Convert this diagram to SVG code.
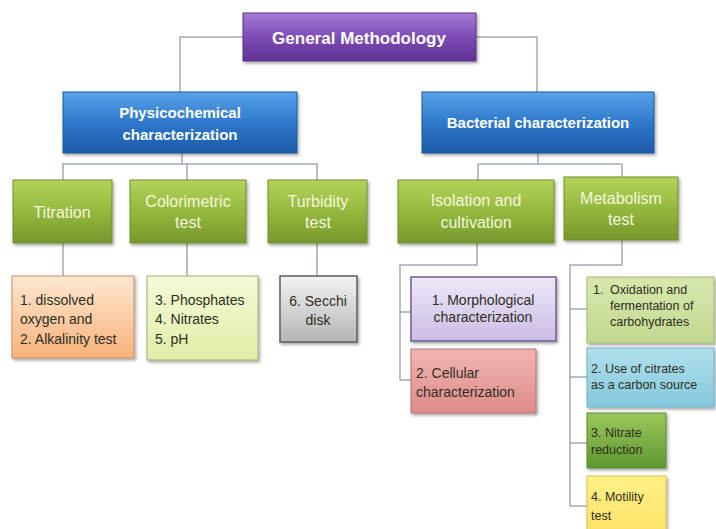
<svg xmlns="http://www.w3.org/2000/svg" width="716" height="529" viewBox="0 0 716 529">
<defs>
<linearGradient id="gPur" x1="0" y1="0" x2="0" y2="1"><stop offset="0" stop-color="#a57ad6"/><stop offset="0.5" stop-color="#7d4cb6"/><stop offset="1" stop-color="#5f3294"/></linearGradient>
<linearGradient id="gBlue" x1="0" y1="0" x2="0" y2="1"><stop offset="0" stop-color="#5aa2e8"/><stop offset="0.5" stop-color="#2f78cc"/><stop offset="1" stop-color="#1d5aa8"/></linearGradient>
<linearGradient id="gGreen" x1="0" y1="0" x2="0" y2="1"><stop offset="0" stop-color="#b4d35a"/><stop offset="0.5" stop-color="#94b83e"/><stop offset="1" stop-color="#76982c"/></linearGradient>
<linearGradient id="gOrange" x1="0" y1="0" x2="0" y2="1"><stop offset="0" stop-color="#fee8d2"/><stop offset="1" stop-color="#f8b27a"/></linearGradient>
<linearGradient id="gYG" x1="0" y1="0" x2="0" y2="1"><stop offset="0" stop-color="#f4fad8"/><stop offset="1" stop-color="#e0eda8"/></linearGradient>
<linearGradient id="gGray" x1="0" y1="0" x2="0" y2="1"><stop offset="0" stop-color="#f4f4f4"/><stop offset="1" stop-color="#b4b4b4"/></linearGradient>
<linearGradient id="gLav" x1="0" y1="0" x2="0" y2="1"><stop offset="0" stop-color="#efe8f8"/><stop offset="1" stop-color="#cbbce6"/></linearGradient>
<linearGradient id="gPink" x1="0" y1="0" x2="0" y2="1"><stop offset="0" stop-color="#f2b4b2"/><stop offset="1" stop-color="#de8c8a"/></linearGradient>
<linearGradient id="gLG" x1="0" y1="0" x2="0" y2="1"><stop offset="0" stop-color="#d8e8ae"/><stop offset="1" stop-color="#c2d890"/></linearGradient>
<linearGradient id="gLB" x1="0" y1="0" x2="0" y2="1"><stop offset="0" stop-color="#b0e0ec"/><stop offset="1" stop-color="#84c8dc"/></linearGradient>
<linearGradient id="gDG" x1="0" y1="0" x2="0" y2="1"><stop offset="0" stop-color="#9cc85a"/><stop offset="1" stop-color="#5e9830"/></linearGradient>
<linearGradient id="gYel" x1="0" y1="0" x2="0" y2="1"><stop offset="0" stop-color="#fff28a"/><stop offset="1" stop-color="#ffe064"/></linearGradient>
<filter id="sh" x="-10%" y="-10%" width="125%" height="130%"><feDropShadow dx="1.5" dy="2" stdDeviation="1.5" flood-color="#000" flood-opacity="0.35"/></filter>
</defs>
<style>
.conn path{fill:none;stroke:#a3abb8;stroke-width:1.5}
rect{filter:url(#sh)}
.hd{font-family:"Liberation Sans",Arial,sans-serif;font-weight:bold;fill:#ffffff;text-anchor:middle}
.gr{font-family:"Liberation Sans",Arial,sans-serif;font-size:16px;fill:#f3f7dc;text-anchor:middle}
.dk{font-family:"Liberation Sans",Arial,sans-serif;font-size:14px;fill:#2e2e22}
.sm{font-size:12.5px}
.mid{text-anchor:middle}
</style>
<g class="conn" id="connectors">
<path d="M243,37 H180 V92"/>
<path d="M476,37 H537 V92"/>
<path d="M182,153 V164 M62,164 H318 M63,164 V180 M187,164 V180 M317,164 V180"/>
<path d="M538,153 V164 M478,164 H622 M478,164 V180 M622,164 V177"/>
<path d="M63,243 V276 M187,243 V276 M317,243 V276"/>
<path d="M477,243 V265 H400 V380 M400,312 H411 M400,380 H411"/>
<path d="M622,240 V265 H570 V506 M570,309 H587 M570,377 H587 M570,443 H587 M570,506 H587"/>
</g>
<g id="general">
<rect x="243" y="13" width="233" height="48" fill="url(#gPur)" stroke="#5a3088" stroke-width="1"/>
<text class="hd" x="359" y="44" font-size="17">General Methodology</text>
</g>
<g id="physico">
<rect x="63" y="92" width="234" height="61" fill="url(#gBlue)" stroke="#1d5aa0" stroke-width="1"/>
<text class="hd" x="180" y="118" font-size="15">Physicochemical</text>
<text class="hd" x="180" y="140" font-size="15">characterization</text>
</g>
<g id="bacterial">
<rect x="422" y="92" width="232" height="61" fill="url(#gBlue)" stroke="#1d5aa0" stroke-width="1"/>
<text class="hd" x="538" y="128" font-size="15">Bacterial characterization</text>
</g>
<g id="titration">
<rect x="13" y="180" width="99" height="63" fill="url(#gGreen)" stroke="#6f8f2a" stroke-width="1"/>
<text class="gr" x="62" y="218">Titration</text>
</g>
<g id="colorimetric">
<rect x="130" y="180" width="116" height="63" fill="url(#gGreen)" stroke="#6f8f2a" stroke-width="1"/>
<text class="gr" x="188" y="207">Colorimetric</text>
<text class="gr" x="188" y="228">test</text>
</g>
<g id="turbidity">
<rect x="268" y="180" width="99" height="63" fill="url(#gGreen)" stroke="#6f8f2a" stroke-width="1"/>
<text class="gr" x="318" y="207">Turbidity</text>
<text class="gr" x="318" y="228">test</text>
</g>
<g id="isolation">
<rect x="398" y="180" width="156" height="63" fill="url(#gGreen)" stroke="#6f8f2a" stroke-width="1"/>
<text class="gr" x="476" y="206">Isolation and</text>
<text class="gr" x="476" y="228">cultivation</text>
</g>
<g id="metabolism">
<rect x="564" y="177" width="114" height="63" fill="url(#gGreen)" stroke="#6f8f2a" stroke-width="1"/>
<text class="gr" x="621" y="204">Metabolism</text>
<text class="gr" x="621" y="225">test</text>
</g>
<g id="titration-items">
<rect x="12" y="276" width="122" height="82" fill="url(#gOrange)" stroke="#c89068" stroke-width="1"/>
<text class="dk" x="20" y="305">1. dissolved</text>
<text class="dk" x="20" y="324">oxygen and</text>
<text class="dk" x="20" y="344">2. Alkalinity test</text>
</g>
<g id="colorimetric-items">
<rect x="147" y="276" width="111" height="84" fill="url(#gYG)" stroke="#9fae70" stroke-width="1"/>
<text class="dk" x="155" y="305">3. Phosphates</text>
<text class="dk" x="155" y="324">4. Nitrates</text>
<text class="dk" x="155" y="344">5. pH</text>
</g>
<g id="secchi">
<rect x="280" y="276" width="77" height="66" fill="url(#gGray)" stroke="#5e5e5e" stroke-width="1.5"/>
<text class="dk mid" x="318" y="306">6. Secchi</text>
<text class="dk mid" x="318" y="325">disk</text>
</g>
<g id="morphological">
<rect x="411" y="277" width="145" height="64" fill="url(#gLav)" stroke="#6e5e92" stroke-width="1.5"/>
<text class="dk mid" x="483" y="305">1. Morphological</text>
<text class="dk mid" x="483" y="322">characterization</text>
</g>
<g id="cellular">
<rect x="411" y="349" width="125" height="64" fill="url(#gPink)" stroke="#b07474" stroke-width="1"/>
<text class="dk" x="416" y="378">2. Cellular</text>
<text class="dk" x="416" y="397">characterization</text>
</g>
<g id="oxidation">
<rect x="587" y="277" width="127" height="66" fill="url(#gLG)" stroke="#a0b878" stroke-width="1"/>
<text class="dk sm" x="593" y="294">1.</text>
<text class="dk sm" x="610" y="294">Oxidation and</text>
<text class="dk sm" x="610" y="310">fermentation of</text>
<text class="dk sm" x="610" y="326">carbohydrates</text>
</g>
<g id="citrates">
<rect x="587" y="348" width="127" height="59" fill="url(#gLB)" stroke="#70b0c8" stroke-width="1"/>
<text class="dk sm" x="591" y="373">2. Use of citrates</text>
<text class="dk sm" x="591" y="389">as a carbon source</text>
</g>
<g id="nitrate">
<rect x="587" y="413" width="79" height="55" fill="url(#gDG)" stroke="#5a8a30" stroke-width="1"/>
<text class="dk sm" x="591" y="437">3. Nitrate</text>
<text class="dk sm" x="591" y="454">reduction</text>
</g>
<g id="motility">
<rect x="587" y="476" width="79" height="60" fill="url(#gYel)" stroke="#e0c050" stroke-width="1"/>
<text class="dk sm" x="591" y="501">4. Motility</text>
<text class="dk sm" x="591" y="520">test</text>
</g>
</svg>
